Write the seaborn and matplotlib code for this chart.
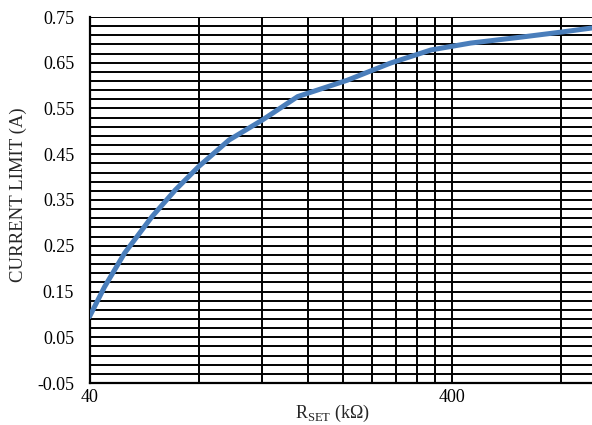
import numpy as np
import pandas as pd
import matplotlib
matplotlib.use("Agg")
import matplotlib.pyplot as plt
import seaborn as sns

# R_SET (kOhm) vs current limit (A)
r_set = [40, 44, 50, 59.4, 69, 80, 97, 120, 150, 206, 270, 350, 450, 620, 800, 973]
i_lim = [0.095, 0.16, 0.234, 0.313, 0.372, 0.423, 0.481, 0.525, 0.576, 0.612,
         0.649, 0.678, 0.693, 0.706, 0.717, 0.726]

x_major = [40, 400]
x_minor = [80, 120, 160, 200, 240, 280, 320, 360, 800]
y_labels = [-0.05, 0.05, 0.15, 0.25, 0.35, 0.45, 0.55, 0.65, 0.75]

sns.set_style("white")
plt.rcParams['font.family'] = ['Liberation Serif', 'DejaVu Serif']
plt.rcParams['mathtext.fontset'] = 'custom'
plt.rcParams['mathtext.rm'] = 'Liberation Serif'

df = pd.DataFrame({'R': r_set, 'I': i_lim})

fig = plt.figure(figsize=(5.92, 4.25), dpi=100)
ax = fig.add_axes([89.5 / 592, 42 / 425, (592 - 89.5) / 592, 366 / 425])

sns.lineplot(data=df, x='R', y='I', ax=ax, color='#4a7ebb', linewidth=3.6, zorder=3)

ax.set_xscale('log')
ax.set_xlim(40, 973)
ax.set_ylim(-0.05, 0.75)

ax.set_xticks(x_major)
ax.set_xticklabels(['40', '400'])
ax.set_xticks(x_minor, minor=True)
ax.set_xticklabels([], minor=True)
ax.set_yticks(y_labels)
ax.set_yticklabels([f'{v:.2f}' for v in y_labels])
ax.set_yticks(np.round(np.arange(-0.05, 0.751, 0.02), 2), minor=True)

ax.grid(True, which='both', color='black', linewidth=1.4)
ax.set_axisbelow(True)
ax.tick_params(which='both', length=0, labelsize=13, colors='black')
ax.tick_params(axis='x', pad=4)
ax.tick_params(axis='y', pad=11)

for side in ['top', 'right']:
    ax.spines[side].set_visible(False)
for side in ['left', 'bottom']:
    ax.spines[side].set_color('black')
    ax.spines[side].set_linewidth(1.6)

ax.set_xlabel(r'R$_{\mathrm{SET}}$ (k$\Omega$)', fontsize=13)
ax.xaxis.set_label_coords(0.483, -0.055)
ax.set_ylabel('CURRENT LIMIT (A)', fontsize=13.5)
ax.yaxis.set_label_coords(-0.125, 0.514)

fig.savefig('out.png', dpi=100)
